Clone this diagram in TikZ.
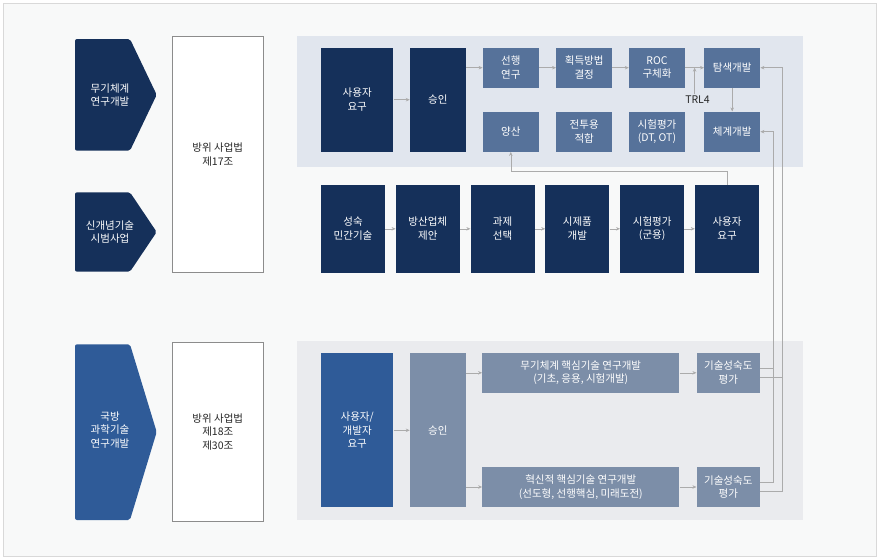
\documentclass[tikz,border=0pt]{standalone}
\usepackage{fontspec}
\setmainfont{Noto Sans CJK KR}
\usetikzlibrary{arrows.meta,calc}

\definecolor{boxnavy}{HTML}{15305A}
\definecolor{boxsteel}{HTML}{56729A}
\definecolor{boxgray}{HTML}{7C8EA8}
\definecolor{boxblue}{HTML}{2F5B98}
\definecolor{paneltop}{HTML}{E1E6EE}
\definecolor{panelbot}{HTML}{EAEBEE}
\definecolor{pagebg}{HTML}{F8F9F9}
\definecolor{linegray}{HTML}{ABABAB}

\begin{document}
\begin{tikzpicture}[x=1pt, y=-1pt,
    every node/.style={font=\fontsize{10.5}{13.5}\selectfont},
    block/.style={rectangle, inner sep=0pt, align=center, text=white},
    tall/.style={block, fill=boxnavy, minimum width=72.3pt, minimum height=104pt},
    okbox/.style={block, fill=boxnavy, minimum width=55.7pt, minimum height=104pt},
    small/.style={block, fill=boxsteel, minimum width=56pt, minimum height=40pt},
    mid/.style={block, fill=boxnavy, minimum width=64pt, minimum height=87.7pt},
    wide/.style={block, fill=boxgray, minimum width=197pt, minimum height=39.5pt},
    trlbox/.style={block, fill=boxgray, minimum width=63.3pt, minimum height=39.5pt},
    law/.style={rectangle, draw=black!45, line width=0.6pt, fill=white, minimum width=91pt, align=center, text=black!85},
    arrow/.style={->, >={Stealth[length=4pt, width=3.5pt]}, draw=linegray, line width=0.6pt},
    link/.style={draw=linegray, line width=0.6pt}
]
    \useasboundingbox (0,0) rectangle (879,560);
    \fill[white] (0,0) rectangle (879,560);
    \draw[fill=pagebg, draw=black!15, line width=0.8pt] (3,3) rectangle (876,556);

    % Panels
    \fill[paneltop] (297,36) rectangle (803,167);
    \fill[panelbot] (297,341) rectangle (803,520);

    % Chevrons on the left
    \fill[boxnavy, rounded corners=2pt] (75,39) -- (130,39) -- (156.7,94.8) -- (130,150.7) -- (75,150.7) -- cycle;
    \fill[boxnavy, rounded corners=2pt] (75,192.3) -- (130,192.3) -- (156.7,232) -- (130,271.7) -- (75,271.7) -- cycle;
    \fill[boxblue, rounded corners=2pt] (75,344.3) -- (130,344.3) -- (156.7,432) -- (130,520) -- (75,520) -- cycle;
    \node[text=white, align=center] (weapon) at (110,95) {무기체계\\연구개발};
    \node[text=white, align=center] (newtech) at (110,232) {신개념기술\\시범사업};
    \node[text=white, align=center] (defsci) at (110,430) {국방\\과학기술\\연구개발};

    % Law boxes
    \node[law, minimum height=235.6pt] (law1) at (217.8,154.5) {방위 사업법\\제17조};
    \node[law, minimum height=179.4pt] (law2) at (217.8,432) {방위 사업법\\제18조\\제30조};

    % Top panel
    \node[tall] (req1) at (357.2,99.7) {사용자\\요구};
    \node[okbox] (app1) at (437.8,99.7) {승인};
    \node[small] (pre) at (510.8,67.7) {선행\\연구};
    \node[small] (acq) at (584.2,67.7) {획득방법\\결정};
    \node[small] (roc) at (657,67.7) {ROC\\구체화};
    \node[small] (tam) at (732.2,67.7) {탐색개발};
    \node[small] (yang) at (510.8,131.7) {양산};
    \node[small] (jeon) at (584.2,131.7) {전투용\\적합};
    \node[small] (test) at (657,131.7) {시험평가\\(DT, OT)};
    \node[small] (sys) at (732.2,131.7) {체계개발};
    \node[inner sep=1pt, text=black!85] (trl) at (697.5,99.5) {TRL4};
    \coordinate (trlpt) at ($(roc.east)!0.5!(tam.west)$);

    \draw[arrow] (req1) -- (app1);
    \draw[arrow] (app1.east |- pre.west) -- (pre.west);
    \draw[arrow] (pre) -- (acq);
    \draw[arrow] (acq) -- (roc);
    \draw[arrow] (roc) -- (tam);
    \draw[arrow] (trl.north -| trlpt) -- (trlpt);
    \draw[arrow] (tam) -- (sys);

    % Middle row
    \node[mid] (m1) at (353,228.8) {성숙\\민간기술};
    \node[mid] (m2) at (427.8,228.8) {방산업체\\제안};
    \node[mid] (m3) at (502.6,228.8) {과제\\선택};
    \node[mid] (m4) at (577.4,228.8) {시제품\\개발};
    \node[mid] (m5) at (652.2,228.8) {시험평가\\(군용)};
    \node[mid] (m6) at (727,228.8) {사용자\\요구};

    \draw[arrow] (m1) -- (m2);
    \draw[arrow] (m2) -- (m3);
    \draw[arrow] (m3) -- (m4);
    \draw[arrow] (m4) -- (m5);
    \draw[arrow] (m5) -- (m6);
    \draw[arrow] (m6.north) |- (yang.south |- 0,171.7) -- (yang.south);

    % Bottom panel
    \node[block, fill=boxblue, minimum width=72.3pt, minimum height=154pt] (req3) at (357.2,430.3) {사용자/\\개발자\\요구};
    \node[block, fill=boxgray, minimum width=55.7pt, minimum height=154pt] (app3) at (437.8,430.3) {승인};
    \node[wide] (rd1) at (580.8,372.8) {무기체계 핵심기술 연구개발\\(기초, 응용, 시험개발)};
    \node[wide] (rd2) at (580.8,487) {혁신적 핵심기술 연구개발\\(선도형, 선행핵심, 미래도전)};
    \node[trlbox] (tm1) at (728.3,372.8) {기술성숙도\\평가};
    \node[trlbox] (tm2) at (728.3,487) {기술성숙도\\평가};

    \draw[arrow] (req3) -- (app3);
    \draw[arrow] (app3.east |- rd1.west) -- (rd1.west);
    \draw[arrow] (app3.east |- rd2.west) -- (rd2.west);
    \draw[arrow] (rd1) -- (tm1);
    \draw[arrow] (rd2) -- (tm2);

    % Feedback lines on the right
    \coordinate (busA) at (773.5,0);
    \coordinate (busB) at (782,0);
    \draw[link] ([yshift=4.5pt]tm1.east) -| (busA |- sys.east);
    \draw[arrow] ([yshift=4.5pt]tm2.east) -| (busA |- sys.east) -- (sys.east);
    \draw[link] ([yshift=-4.5pt]tm1.east) -| (busB |- tam.east);
    \draw[arrow] ([yshift=-4.5pt]tm2.east) -| (busB |- tam.east) -- (tam.east);
\end{tikzpicture}
\end{document}
